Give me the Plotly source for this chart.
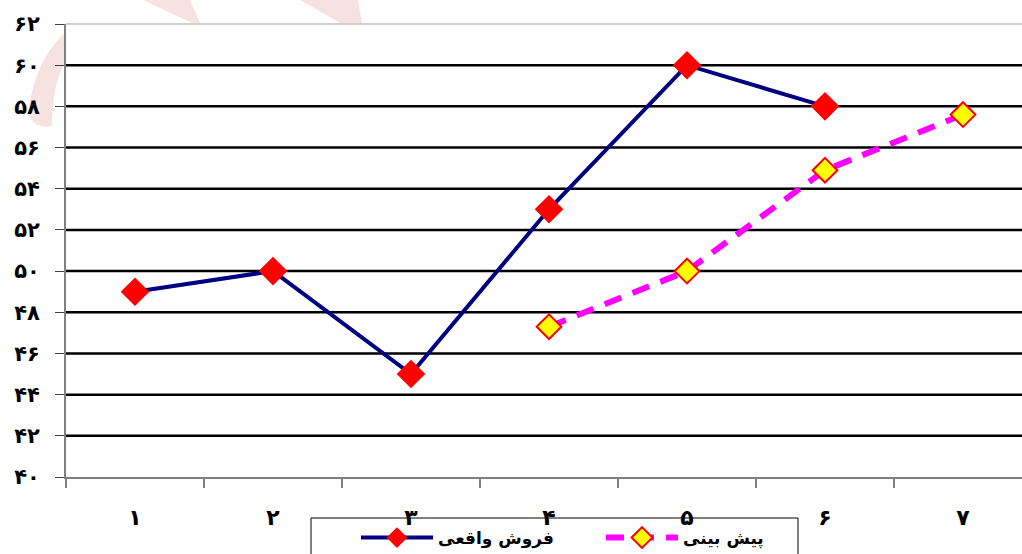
import plotly.graph_objects as go

# Persian digits for labels
FA = "۰۱۲۳۴۵۶۷۸۹"
def fa(n):
    return "".join(FA[int(c)] for c in str(n))

periods = [fa(i) for i in range(1, 8)]           # ۱ .. ۷
actual_sales = [49, 50, 45, 53, 60, 58]            # فروش واقعی
forecast_periods = periods[3:]                    # ۴ .. ۷
forecast = [47.3, 50, 54.9, 57.6]                 # پیش بینی
y_ticks = list(range(40, 63, 2))

FONT = "DejaVu Sans"

# plot area in pixels
W, H = 1022, 554
L, R, T, B = 66, 0, 24, 77
pw, ph = W - L - R, H - T - B

def px(x, y):
    return (x - L) / pw, (H - B - y) / ph

def path(points):
    pts = [px(x, y) for x, y in points]
    return "M " + " L ".join(f"{a:.4f},{b:.4f}" for a, b in pts) + " Z"

fig = go.Figure()

fig.add_trace(go.Scatter(
    x=periods[:len(actual_sales)], y=actual_sales, name="فروش واقعی",
    mode="lines+markers",
    line=dict(color="#000080", width=4),
    marker=dict(symbol="diamond", size=22, color="#FF0000",
                line=dict(width=0)),
))
fig.add_trace(go.Scatter(
    x=forecast_periods, y=forecast, name="پیش بینی",
    mode="lines+markers",
    line=dict(color="#FF00FF", width=6, dash="18px,12px"),
    marker=dict(symbol="diamond", size=19, color="#FFFF00",
                line=dict(width=2, color="#FF0000")),
))

shapes = []
# horizontal gridlines
for v in y_ticks[1:-1]:
    shapes.append(dict(type="line", xref="paper", yref="y", x0=0, x1=1,
                       y0=v, y1=v, line=dict(color="#000000", width=2.5),
                       layer="below"))
# light top border
shapes.append(dict(type="line", xref="paper", yref="paper", x0=0, x1=1,
                   y0=1, y1=1, line=dict(color="#D0D0D0", width=2),
                   layer="below"))

# faint watermark strokes in the margins
pink = "#F7E2E2"
shapes.append(dict(type="path", xref="paper", yref="paper", layer="below",
                   path=path([(143, 0), (190, 0), (200, 23), (192, 23)]),
                   fillcolor=pink, line=dict(width=0)))
shapes.append(dict(type="path", xref="paper", yref="paper", layer="below",
                   path=path([(300, 0), (358, 0), (362, 23), (340, 23)]),
                   fillcolor=pink, line=dict(width=0)))
p1 = px(65, 33); c1 = px(36, 58); p2 = px(28, 112)
c2 = px(34, 130); p3 = px(52, 126); c3 = px(52, 84); p4 = px(65, 63)
shapes.append(dict(type="path", xref="paper", yref="paper", layer="below",
                   path=(f"M {p1[0]:.4f},{p1[1]:.4f} Q {c1[0]:.4f},{c1[1]:.4f} {p2[0]:.4f},{p2[1]:.4f} "
                         f"Q {c2[0]:.4f},{c2[1]:.4f} {p3[0]:.4f},{p3[1]:.4f} "
                         f"Q {c3[0]:.4f},{c3[1]:.4f} {p4[0]:.4f},{p4[1]:.4f} Z"),
                   fillcolor=pink, line=dict(width=0)))

# legend frame
lx0, ly0 = px(311, 518)
lx1, ly1 = px(798, 570)
shapes.append(dict(type="rect", xref="paper", yref="paper",
                   x0=lx0, y0=ly0, x1=lx1, y1=ly1,
                   line=dict(color="black", width=1), fillcolor="rgba(0,0,0,0)",
                   layer="below"))

fig.update_layout(
    width=W, height=H,
    margin=dict(l=L, r=R, t=T, b=B, pad=0, autoexpand=False),
    paper_bgcolor="white", plot_bgcolor="white",
    font=dict(family=FONT, color="black"),
    shapes=shapes,
    showlegend=True,
    legend=dict(
        orientation="h", x=px(356, 0)[0], y=px(0, 520)[1],
        xanchor="left", yanchor="top",
        borderwidth=0, bgcolor="rgba(0,0,0,0)",
        font=dict(family=FONT, size=17, color="black", weight="bold"),
        itemwidth=72, entrywidth=158, tracegroupgap=0,
    ),
    xaxis=dict(
        type="category", categoryorder="array", categoryarray=periods,
        range=[-0.5, -0.5 + pw / 138],
        tickson="boundaries", ticks="outside", ticklen=9, tickwidth=2,
        tickcolor="#808080", showgrid=False, zeroline=False,
        showline=True, linecolor="#808080", linewidth=2,
        tickfont=dict(family=FONT, size=22, color="black", weight="bold"),
        ticklabelstandoff=20,
    ),
    yaxis=dict(
        range=[40, 62], tickvals=y_ticks, ticktext=[fa(v) for v in y_ticks],
        ticks="outside", ticklen=9, tickwidth=1, tickcolor="#404040",
        showgrid=False, zeroline=False,
        showline=True, linecolor="#808080", linewidth=2,
        tickfont=dict(family=FONT, size=21, color="black", weight="bold"),
        ticklabelstandoff=11,
    ),
)

fig.write_html("out.html")
